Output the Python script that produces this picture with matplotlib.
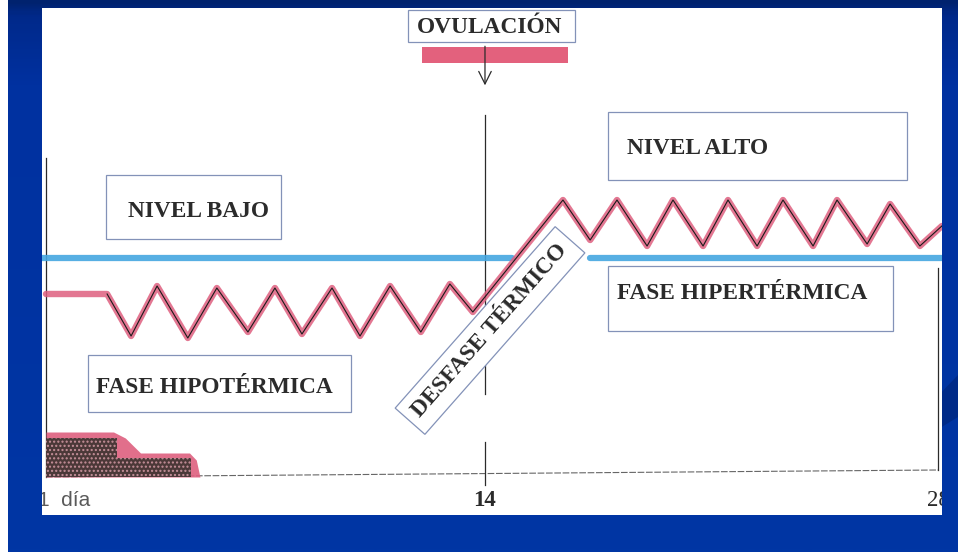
import numpy as np
import matplotlib.pyplot as plt
from matplotlib.patches import Rectangle, Polygon
from matplotlib.colors import LinearSegmentedColormap
from matplotlib.transforms import blended_transform_factory

# curva de temperatura basal (esquema dibujado a mano)
dias = [1.0, 2.81, 3.52, 4.29, 5.20, 6.06, 6.98, 7.78, 8.58, 9.47, 10.30, 11.19, 12.10,
        12.96, 13.64, 16.41, 17.25, 18.08, 19.01, 19.81, 20.74, 21.51, 22.41, 23.21,
        24.14, 24.88, 25.81, 26.52, 27.44, 28.12]
temp = [36.52, 36.52, 36.31, 36.56, 36.30, 36.55, 36.33, 36.55, 36.32, 36.55, 36.31, 36.56, 36.33,
        36.57, 36.43, 36.99, 36.79, 36.99, 36.76, 36.99, 36.76, 36.99, 36.76, 36.99,
        36.76, 36.99, 36.77, 36.97, 36.76, 36.86]

# linea azul de referencia (nivel)
nivel = 36.70
nivel_tramos = [(0.88, 14.83), (17.25, 28.12)]

# menstruacion (bloque abajo a la izquierda)
regla_dias = [1.0, 3.0, 3.35, 3.8, 5.25, 5.45, 5.56]
regla_borde = [35.83, 35.83, 35.80, 35.725, 35.725, 35.69, 35.605]
regla_osc_dias = [1.0, 3.1, 3.1, 5.3]
regla_osc = [35.80, 35.80, 35.70, 35.70]

dia_ovulacion = 14
eje_base = [35.605, 35.64]
ticks = [1, 14, 28]
tick_labels = ["1  día", "14", "28"]

PINK = "#de5f7f"
BLUE = "#45a6e0"
BOXC = "#8392b8"
INK = "#2b2b2b"
SERIF = "Liberation Serif"

# el dibujo comprime un poco la segunda mitad del ciclo
k = 0.9582
def fwd(d):
    d = np.asarray(d, float)
    return np.where(d < 14, d - 1, 13 + (d - 14) * k)
def inv(u):
    u = np.asarray(u, float)
    return np.where(u < 13, u + 1, 14 + (u - 13) / k)

fig = plt.figure(figsize=(9.58, 5.52), dpi=100)

# fondo azul de la diapositiva
bg = fig.add_axes([0, 0, 1, 1])
cmap = LinearSegmentedColormap.from_list(
    "bg", [(0, "#0036a4"), (0.85, "#0031a0"), (0.975, "#00298a"), (1.0, "#00226e")])
grad = np.linspace(0, 1, 300).reshape(-1, 1)
bg.imshow(grad, aspect="auto", extent=[0, 1, 0, 1], cmap=cmap, vmin=0, vmax=1, origin="lower")
bg.add_patch(Polygon([(0.983, 1 - 392 / 552), (1.0, 1 - 375 / 552), (1.0, 1 - 417 / 552),
                      (0.983, 1 - 427 / 552)], closed=True, color="#002a88", lw=0))
bg.add_patch(Rectangle((0, 0), 8 / 958, 1, color="white", lw=0))
bg.set_xlim(0, 1)
bg.set_ylim(0, 1)
bg.axis("off")

ax = fig.add_axes([42 / 958, 1 - 515 / 552, 900 / 958, 507 / 552])
ax.set_xscale("function", functions=(fwd, inv))
ax.set_xlim(0.882, 28.124)
ax.set_ylim(35.415, 37.95)
ax.set_facecolor("white")
for s in ax.spines.values():
    s.set_visible(False)
ax.set_xticks([])
ax.set_yticks([])

# ejes dibujados
ax.plot([1, 1], [eje_base[0], 37.20], color=INK, lw=0.9, zorder=2)
ax.plot([1, 28], eje_base, color="#666666", lw=0.8, ls=(0, (6, 1.5)), zorder=2)
ax.plot([28, 28], [eje_base[1], 36.65], color=INK, lw=0.9, zorder=2)
ax.plot([dia_ovulacion] * 2, [36.02, 37.415], color=INK, lw=0.9, zorder=2)
ax.plot([dia_ovulacion] * 2, [35.565, 35.78], color=INK, lw=0.9, zorder=2)

# nivel
for a, b in nivel_tramos:
    ax.plot([a, b], [nivel, nivel], color=BLUE, lw=4.5, alpha=0.9,
            solid_capstyle="round", zorder=3)

# curva
ax.plot(dias, temp, color=PINK, lw=4.6, alpha=0.85, solid_joinstyle="round",
        solid_capstyle="round", zorder=5)
ax.plot(dias[1:], temp[1:], color="#1a1a1a", lw=0.8, zorder=6)

# menstruacion
ax.fill_between(regla_dias, eje_base[0], regla_borde, color=PINK, alpha=0.9, lw=0, zorder=3)
ax.fill_between(regla_osc_dias, eje_base[0], regla_osc, facecolor="#4b3838",
                edgecolor="#c7909a", hatch="....", lw=0, zorder=4)

# cajas de texto (coordenadas de ejes)
def caja(x0, y0, x1, y1):
    ax.add_patch(Rectangle((x0, y0), x1 - x0, y1 - y0, transform=ax.transAxes,
                           fill=False, edgecolor=BOXC, lw=0.9, zorder=4))

font = dict(family=SERIF, weight="bold", fontsize=16.8, color=INK)

caja(0.4067, 0.9329, 0.5922, 0.996)
ax.add_patch(Rectangle((0.4222, 0.8915), 0.1622, 0.0315, transform=ax.transAxes,
                       color="#e0506f", alpha=0.9, lw=0, zorder=3))
ax.text(0.4978, 0.962, "OVULACIÓN", transform=ax.transAxes, ha="center", va="center", **font)

tr = blended_transform_factory(ax.transData, ax.transAxes)
ax.annotate("", xy=(dia_ovulacion, 0.842), xytext=(dia_ovulacion, 0.93), xycoords=tr, textcoords=tr,
            arrowprops=dict(arrowstyle="->,head_length=0.9,head_width=0.45", lw=0.9, color=INK),
            zorder=5)

caja(0.0711, 0.5444, 0.2656, 0.6706)
ax.text(0.0956, 0.5996, "NIVEL BAJO", transform=ax.transAxes, ha="left", va="center", **font)

caja(0.6289, 0.6607, 0.9611, 0.7949)
ax.text(0.650, 0.7219, "NIVEL ALTO", transform=ax.transAxes, ha="left", va="center", **font)

caja(0.0511, 0.2032, 0.3433, 0.3156)
ax.text(0.060, 0.2505, "FASE HIPOTÉRMICA", transform=ax.transAxes, ha="left", va="center", **font)

caja(0.6289, 0.3629, 0.9456, 0.4911)
ax.text(0.6389, 0.4359, "FASE HIPERTÉRMICA", transform=ax.transAxes, ha="left", va="center", **font)

ax.text(0.4978, 0.3639, "DESFASE TÉRMICO", transform=ax.transAxes, ha="center", va="center",
        rotation=48.6, rotation_mode="anchor", zorder=4.5,
        bbox=dict(boxstyle="square,pad=0.4", facecolor="white", edgecolor=BOXC, lw=0.9),
        **font)

# etiquetas del eje x
ylab = 35.49
ax.text(0.77, ylab, tick_labels[0], ha="left", va="center", family="Liberation Sans",
        fontsize=15, color="#5a5a5a", clip_on=True)
ax.text(ticks[1], ylab, tick_labels[1], ha="center", va="center", family=SERIF,
        weight="bold", fontsize=16.5, color=INK, clip_on=True)
ax.text(ticks[2], ylab, tick_labels[2], ha="center", va="center", family=SERIF,
        fontsize=16.5, color=INK, clip_on=True)

fig.savefig("out.png", dpi=100)
